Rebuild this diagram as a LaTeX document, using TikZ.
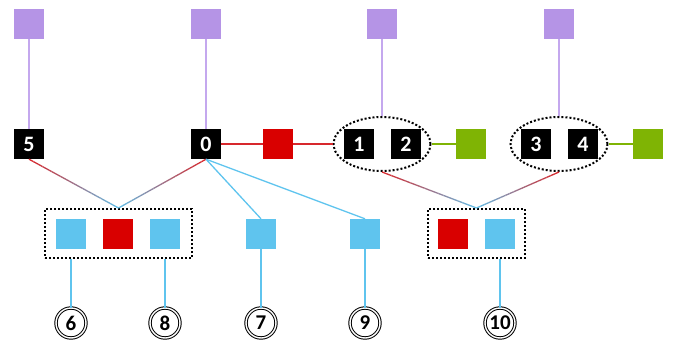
\documentclass[tikz,border=0pt]{standalone}
\usepackage{fontspec}
\setmainfont{Carlito}
\usetikzlibrary{shapes.geometric,calc}

\definecolor{purp}{HTML}{B594E6}
\definecolor{purpline}{HTML}{C4A8EE}
\definecolor{blu}{HTML}{5FC4EE}
\definecolor{rd}{HTML}{D90000}
\definecolor{rdline}{HTML}{D7282D}
\definecolor{grn}{HTML}{7FB404}

% red-to-blue shaded connector, drawn in small pieces
\newcommand{\gradline}[2]{%
    \foreach \i in {0,...,19} {
        \pgfmathtruncatemacro\j{\i+1}
        \pgfmathtruncatemacro\c{100-5*\i}
        \draw[line width=1.3pt, rdline!\c!blu] ($(#1)!\i/20!(#2)$) -- ($(#1)!\j/20!(#2)$);
    }%
}

\begin{document}
\begin{tikzpicture}[
        x=1pt, y=-1pt,
        every node/.style = {minimum size=30pt, inner sep=0pt, font=\fontsize{22}{26}\selectfont\bfseries},
        sq/.style = {rectangle},
        blk/.style = {sq, fill=black, text=white},
        purpsq/.style = {sq, fill=purp},
        blusq/.style = {sq, fill=blu},
        rdsq/.style = {sq, fill=rd},
        grnsq/.style = {sq, fill=grn},
        ring/.style = {circle, draw=black, line width=1pt, double, double distance=1.4pt, minimum size=30pt, font=\fontsize{21}{25}\selectfont\bfseries},
        grp/.style = {ellipse, draw=black, dotted, line width=2pt, minimum width=97pt, minimum height=54pt},
        grpbox/.style = {rectangle, draw=black, dotted, line width=2pt, minimum height=49pt},
        bl/.style = {draw=blu, line width=1.3pt},
        pl/.style = {draw=purpline, line width=1.5pt},
        rl/.style = {draw=rdline, line width=1.3pt},
        gl/.style = {draw=grn, line width=1.3pt}
        ]
    \useasboundingbox (0,0) rectangle (678,343);

    % groups
    \node[grp] (e12) at (382,144) {};
    \node[grp] (e34) at (559,144) {};
    \node[grpbox, minimum width=147pt] (box1) at (118.5,233.5) {};
    \node[grpbox, minimum width=97pt] (box2) at (476.5,233.5) {};

    % top row
    \node[purpsq] (p5) at (29,24) {};
    \node[purpsq] (p0) at (206,24) {};
    \node[purpsq] (p12) at (382,24) {};
    \node[purpsq] (p34) at (559,24) {};

    % middle row
    \node[blk] (n5) at (29,144) {5};
    \node[blk] (n0) at (206,144) {0};
    \node[rdsq] (r0) at (278,144) {};
    \node[blk] (n1) at (359,144) {1};
    \node[blk] (n2) at (406,144) {2};
    \node[grnsq] (g12) at (471,144) {};
    \node[blk] (n3) at (536,144) {3};
    \node[blk] (n4) at (583,144) {4};
    \node[grnsq] (g34) at (648,144) {};

    % bottom row
    \node[blusq] (b6) at (71,234) {};
    \node[rdsq] (r6) at (118,234) {};
    \node[blusq] (b8) at (165,234) {};
    \node[blusq] (b7) at (261,234) {};
    \node[blusq] (b9) at (365,234) {};
    \node[rdsq] (r10) at (453,234) {};
    \node[blusq] (b10) at (500,234) {};

    % leaves
    \node[ring] (c6) at (71,323) {6};
    \node[ring] (c8) at (165,323) {8};
    \node[ring] (c7) at (261,323) {7};
    \node[ring] (c9) at (365,323) {9};
    \node[ring] (c10) at (500,323) {10};

    % connectors
    \draw[pl] (p5.south) -- (n5.north);
    \draw[pl] (p0.south) -- (n0.north);
    \draw[pl] (p12.south) -- (e12.north);
    \draw[pl] (p34.south) -- (e34.north);

    \draw[rl] (n0.east) -- (r0.west);
    \draw[rl] (r0.east) -- (e12.west);
    \draw[gl] (e12.east) -- (g12.west);
    \draw[gl] (e34.east) -- (g34.west);

    \gradline{n5.south}{box1.north}
    \gradline{n0.south}{box1.north}
    \gradline{e12.south}{box2.north}
    \gradline{e34.south}{box2.north}

    \draw[bl] (n0.south) -- (b7.north);
    \draw[bl] (n0.south) -- (b9.north);

    \draw[bl] (box1.south -| b6) -- (c6);
    \draw[bl] (box1.south -| b8) -- (c8);
    \draw[bl] (b7) -- (c7);
    \draw[bl] (b9) -- (c9);
    \draw[bl] (box2.south -| b10) -- (c10);
\end{tikzpicture}
\end{document}
